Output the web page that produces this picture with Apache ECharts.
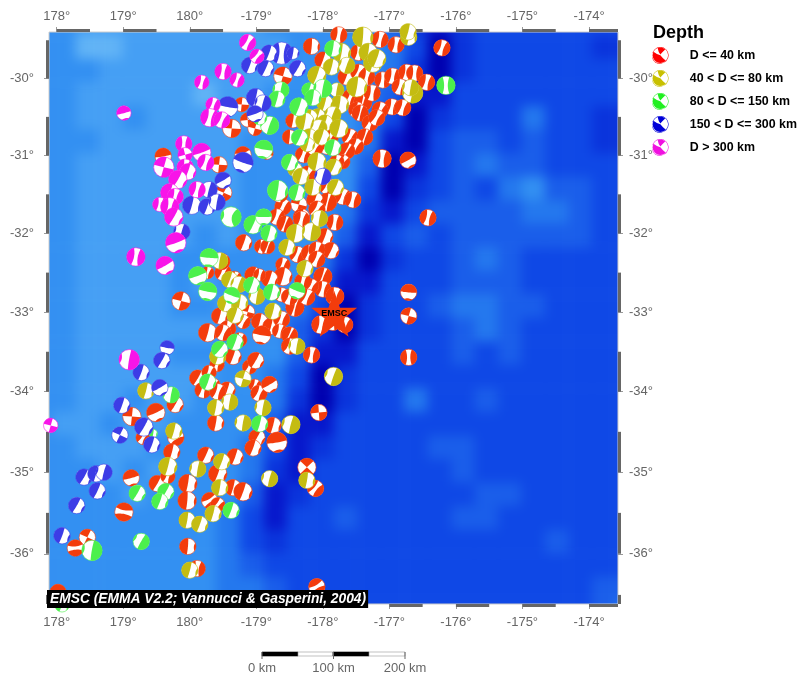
<!DOCTYPE html>
<html>
<head>
<meta charset="utf-8">
<title>EMSC focal mechanisms</title>
<script src="https://cdn.jsdelivr.net/npm/echarts@6/dist/echarts.min.js"></script>
<style>
    html, body { margin: 0; padding: 0; background: #fff; }
    #bathClip { position: absolute; left: 49px; top: 32px; width: 569px; height: 572px; overflow: hidden; }
    #bath { position: absolute; left: -20px; top: -20px; width: 610px; height: 612px; filter: blur(6px); }
    #chart { position: absolute; left: 0; top: 0; width: 807px; height: 683px; }
</style>
</head>
<body>
<div id="bathClip"><div id="bath"></div></div>
<div id="chart"></div>
<script>
const lonTicks = [178, 179, 180, 181, 182, 183, 184, 185, 186];
const latTicks = [-30, -31, -32, -33, -34, -35, -36];
const depthLabels = ['D <= 40 km', '40 < D <= 80 km', '80 < D <= 150 km', '150 < D <= 300 km', 'D > 300 km'];
const depthColors = ['#f33c0c', '#c4bc12', '#4cf04c', '#3c3ce6', '#f814e8'];
const legendColors = ['#ff0000', '#c8c000', '#20f020', '#0000d8', '#f010e0'];
const starPoint = [182.17, -33.02];

// seabed shade, row by row from north to south (0 shallow, 9 trench)
const seabed = [
    [3,3,2,2,2,2,2,2,2,2,3,3,3,3,4,5,7,8,7,6,6,6,6,6,6,6],
    [3,3,1,1,2,2,2,2,2,2,2,3,3,3,3,4,6,9,7,6,6,6,6,6,7,7],
    [3,3,3,2,2,2,2,2,2,2,2,3,3,3,3,4,7,9,7,6,6,6,6,6,6,6],
    [3,3,2,2,2,2,2,1,2,2,3,3,3,3,4,5,8,8,6,6,6,6,6,6,6,6],
    [3,3,2,2,3,2,2,2,2,2,3,3,3,3,4,6,9,7,6,6,6,4,6,6,7,7],
    [3,3,3,2,2,2,2,2,2,3,3,3,3,3,4,8,9,6,5,5,6,5,6,6,7,7],
    [3,3,2,2,2,2,2,2,2,3,3,3,3,3,5,9,8,6,5,4,5,5,6,6,6,6],
    [3,3,2,2,2,2,2,2,2,3,3,3,3,3,6,9,7,6,5,6,4,3,5,5,6,6],
    [3,3,2,2,2,2,2,2,2,3,3,3,3,4,7,8,6,5,5,5,5,4,4,5,6,6],
    [3,3,2,2,2,2,2,3,2,3,3,3,3,5,8,6,5,6,5,5,5,5,5,5,6,6],
    [3,3,2,2,2,2,3,3,3,3,3,3,4,7,9,7,6,6,5,4,5,6,6,6,6,6],
    [3,3,2,2,2,2,3,2,3,3,3,3,5,8,8,6,6,6,5,5,5,6,6,6,6,6],
    [3,3,2,2,2,2,3,3,2,3,3,4,6,9,7,6,6,5,4,4,5,5,6,6,6,6],
    [3,3,2,2,2,2,2,2,3,3,3,5,7,9,7,6,6,6,5,4,5,6,6,6,6,6],
    [3,3,2,2,2,2,3,3,3,3,3,5,8,8,6,6,6,6,5,6,5,6,6,6,6,6],
    [3,3,2,2,2,2,2,2,3,3,4,6,9,7,6,6,6,6,6,6,6,6,6,6,6,6],
    [3,3,2,2,3,2,2,3,3,3,4,7,9,7,6,6,4,6,6,5,6,6,6,6,6,6],
    [3,2,2,3,2,2,3,3,3,3,5,8,8,6,6,6,6,6,6,6,6,6,6,6,6,6],
    [3,3,2,2,2,3,3,3,3,4,6,8,7,6,6,6,6,5,5,6,6,6,6,6,6,6],
    [3,3,3,2,3,2,3,3,3,4,7,8,6,6,6,6,6,6,5,6,6,6,6,6,6,6],
    [3,3,3,3,2,3,3,3,3,5,8,7,6,6,6,6,6,6,6,5,5,6,6,6,6,6],
    [3,3,3,3,3,3,3,3,4,6,8,6,6,5,6,6,6,6,5,5,6,6,6,6,6,6],
    [3,3,3,3,3,3,3,3,4,6,7,6,6,6,6,6,6,6,6,6,6,6,5,6,6,6],
    [3,3,3,3,3,3,3,3,4,5,6,6,6,6,6,6,6,6,6,6,6,6,6,6,6,6],
    [3,3,3,3,3,3,3,3,4,4,5,6,6,6,6,6,6,6,6,6,6,6,6,6,5,5],
    [3,3,3,3,3,3,3,3,4,4,5,6,6,6,6,6,6,6,6,6,6,6,6,6,5,4]
];
const seabedColors = ['#8cccf8', '#62b4f6', '#459ff4', '#3390f2', '#2478ee', '#1a5eea', '#0f48e6', '#0a34dc', '#0718cc', '#0000b0'];

// lon (0-360), lat, magnitude, strike, mechanism kind
const shallow = [
    [182.24,-29.43,5,10,0],[181.83,-29.58,5,5,1],[182.86,-29.49,5,15,0],[183.10,-29.56,5,10,0],[183.79,-29.60,5,20,0],
    [181.40,-29.97,5.25,60,2],[182.00,-29.76,5,20,1],[182.54,-29.66,5,10,0],[182.35,-29.98,5,20,1],[182.54,-29.92,5,25,0],
    [182.66,-29.98,5,15,0],[182.90,-30.02,5,10,0],[183.05,-29.97,5,10,0],[183.26,-29.92,5,10,0],[183.38,-29.93,5,5,0],
    [183.56,-30.05,5,15,0],[183.16,-30.11,5,20,0],[182.41,-30.25,5,25,0],[182.60,-30.31,5.25,15,3],[182.74,-30.19,5,10,0],
    [183.04,-30.37,5,15,0],[183.20,-30.38,5,20,0],[182.86,-30.41,5,25,0],[182.51,-30.41,5,30,0],[182.56,-30.45,5,15,3],
    [182.71,-30.58,5,25,0],[182.81,-30.51,5,30,0],[181.55,-30.55,4.75,10,1],[181.50,-30.76,4.75,5,1],[180.78,-30.34,4.75,50,2],
    [180.87,-30.54,4.75,40,2],[180.98,-30.65,4.75,60,2],[180.63,-30.65,5.25,50,2],[182.41,-30.76,5,25,0],[182.63,-30.76,5,20,3],
    [182.49,-30.88,5,30,0],[182.11,-30.76,5,30,0],[182.06,-30.88,5,20,0],[182.36,-30.94,5,30,3],[182.30,-31.08,4.75,35,0],
    [182.21,-31.08,4.75,20,0],[181.71,-30.99,5,20,0],[181.88,-30.90,5,30,0],[182.89,-31.04,5.25,8,0],[183.28,-31.06,5,60,1],
    [180.80,-30.99,5,75,0],[181.16,-30.97,4.5,120,1],[180.44,-31.12,5,50,2],[180.51,-31.48,5,70,2],[179.60,-31.01,5,80,1],
    [181.77,-31.24,5,30,0],[182.07,-31.40,5,25,0],[182.30,-31.53,5,20,0],[182.45,-31.57,5,15,0],[182.07,-31.60,5.25,15,3],
    [181.88,-31.57,5,20,1],[181.91,-31.69,5,30,0],[181.64,-31.63,5,60,2],[181.40,-31.66,5,25,0],[181.35,-31.50,5,15,0],
    [181.31,-31.79,5,20,0],[181.68,-31.79,5,15,1],[183.58,-31.80,5,15,0],[180.81,-32.12,5,20,1],[181.08,-32.17,4.75,15,0],
    [181.17,-32.17,4.75,20,3],[181.43,-31.88,5,20,3],[181.68,-31.82,5,15,0],[181.40,-32.40,4.75,20,0],[181.62,-32.27,5,25,0],
    [181.80,-32.25,5,15,0],[182.03,-32.04,5,20,1],[182.12,-32.22,5,25,1],[182.18,-31.86,5,10,0],[181.91,-32.21,5,15,0],
    [181.91,-32.33,5,25,0],[182.00,-32.55,5.25,20,3],[182.00,-32.71,5,15,0],[181.83,-32.67,4.75,30,0],[181.40,-32.55,5.25,15,1],
    [181.20,-32.58,5,20,1],[180.95,-32.53,5,25,1],[181.05,-32.53,4.5,15,0],[180.68,-32.56,4.5,20,0],[180.50,-32.50,5,20,0],
    [180.27,-32.50,4.5,20,0],[180.48,-32.36,5,25,0],[181.38,-32.78,4.75,20,0],[181.58,-32.94,5.25,15,3],[181.76,-32.81,5,25,0],
    [181.50,-32.81,5,20,0],[181.70,-32.61,5,15,0],[182.18,-32.80,5.25,15,0],[181.97,-33.16,5.25,10,0],[182.33,-33.16,5,20,0],
    [182.15,-33.13,5,10,0],[179.87,-32.86,5.25,60,2],[180.45,-33.05,5,15,1],[180.87,-33.00,4.75,60,2],[180.80,-33.12,4.75,30,0],
    [181.05,-33.12,5,15,1],[181.22,-33.18,5,15,1],[181.38,-33.09,5,20,0],[181.35,-33.24,4.75,15,0],[181.50,-33.29,5,25,3],
    [181.08,-33.29,5.25,100,1],[181.50,-33.43,5,25,0],[181.83,-33.54,5,10,0],[180.27,-33.26,5.25,15,1],[180.57,-33.21,5,20,0],
    [180.50,-33.26,5,25,0],[180.75,-33.35,4.75,15,0],[183.29,-32.75,5,95,1],[183.29,-33.05,5,60,2],[183.29,-33.57,5,0,0],
    [180.65,-33.56,5,20,1],[180.41,-33.66,4.75,20,0],[180.12,-33.83,5,30,1],[180.29,-33.76,4.75,20,0],[180.20,-33.98,5,15,0],
    [180.35,-33.92,4.75,25,0],[180.56,-33.98,5,20,1],[180.42,-34.00,5,20,0],[180.90,-33.69,4.75,25,0],[180.99,-33.61,5,30,1],
    [180.98,-33.92,4.5,20,0],[181.04,-34.02,5,25,0],[181.20,-33.91,5,60,1],[181.94,-34.26,5,40,2],[179.13,-34.31,5.25,50,2],
    [179.49,-34.26,5.25,65,1],[179.78,-34.16,5,30,1],[180.39,-34.39,5,10,1],[181.25,-34.42,5,15,1],[181.01,-34.57,5,30,1],
    [181.31,-34.63,5.5,80,1],[180.95,-34.70,5,20,1],[179.79,-34.57,5,60,0],[179.30,-34.57,4.75,30,0],[179.73,-34.75,5,15,1],
    [180.24,-34.79,5,25,1],[180.68,-34.81,5,20,1],[181.76,-34.94,5.25,90,2],[181.89,-35.20,5,40,0],[179.12,-35.07,5,75,1],
    [179.01,-35.49,5.25,100,0],[179.51,-35.14,5,30,1],[179.67,-35.05,4.75,20,0],[179.97,-35.14,5.25,10,1],[179.96,-35.35,5.25,5,1],
    [180.42,-35.02,5.25,20,1],[180.30,-35.35,5,60,0],[180.42,-35.40,4.75,40,0],[180.65,-35.19,5,15,1],[180.80,-35.24,5.25,20,1],
    [178.46,-35.80,5,70,2],[178.28,-35.93,5,85,0],[179.97,-35.91,5,5,1],[180.11,-36.18,5,10,0],[178.02,-36.47,5,80,1],[181.91,-36.40,5,60,0]
];
const intermediate = [
    [182.60,-29.46,5.5,5,1],[183.29,-29.46,5,10,1],[183.28,-29.39,5,15,1],[182.68,-29.66,5.25,10,1],[182.28,-29.66,5.25,10,1],
    [182.13,-29.85,5,15,1],[181.91,-29.96,5.25,20,1],[182.36,-29.83,5,200,1],[182.51,-30.11,5.5,10,1],[182.75,-29.80,5.25,15,1],
    [182.81,-29.74,5.25,20,1],[182.21,-30.15,4.75,190,1],[182.25,-30.34,5.25,10,1],[182.03,-30.32,5,15,1],[181.92,-30.50,5,20,1],
    [182.15,-30.47,5,200,1],[181.80,-30.51,5,15,1],[181.73,-30.56,5.25,10,1],[182.03,-30.58,5,20,1],[182.24,-30.65,5.25,15,1],
    [181.94,-30.64,5,200,1],[181.80,-30.76,5,10,1],[181.98,-30.76,5,20,1],[181.77,-30.86,4.75,15,1],[181.91,-31.08,5.25,10,1],
    [182.16,-31.15,5,25,1],[181.58,-31.18,4.75,30,1],[181.67,-31.27,5,15,1],[181.85,-31.41,5,10,1],[182.19,-31.41,5,25,1],
    [183.35,-30.19,5.5,195,1],[183.32,-30.12,5,190,1],[181.59,-32.00,5.25,10,1],[181.83,-31.98,5.25,190,1],[181.46,-32.18,5,15,1],
    [181.95,-31.81,5,190,1],[181.73,-32.45,5,15,1],[180.45,-32.35,5,190,1],[180.60,-32.59,5,20,1],[180.74,-32.65,5,200,1],
    [180.54,-32.89,5,15,1],[180.75,-32.88,5,10,1],[180.68,-33.04,5,20,1],[181.01,-32.80,5,190,1],[181.25,-32.99,5,15,1],
    [181.61,-33.43,5,190,1],[182.16,-33.81,5.25,200,1],[180.80,-33.84,5,60,2],[180.42,-33.56,5,15,1],[180.60,-34.13,5,190,1],
    [180.39,-34.20,5,10,1],[181.10,-34.20,5,190,1],[180.80,-34.39,5,190,1],[181.52,-34.41,5.25,195,1],[179.76,-34.49,5,15,1],
    [179.67,-34.93,5.25,15,1],[180.12,-34.96,5,190,1],[180.48,-34.87,5,20,1],[180.45,-35.19,5,10,1],[180.35,-35.51,5,15,1],
    [179.96,-35.59,5,10,1],[180.15,-35.64,5,20,1],[181.20,-35.08,5,195,1],[181.76,-35.10,5,10,1],[180.00,-36.20,5,15,1],[179.34,-33.99,5,15,1]
];
const deep = [
    [182.15,-29.61,5,10,1],[181.37,-30.15,5,190,1],[181.31,-30.27,5,15,1],[181.79,-30.15,4.75,20,1],[182.00,-30.13,5.25,190,1],
    [181.85,-30.25,5,10,1],[181.64,-30.37,5.25,20,1],[181.20,-30.61,5.25,200,1],[181.05,-30.51,4.75,15,1],[181.11,-30.92,5.25,100,1],
    [181.65,-30.77,5,25,1],[182.15,-30.90,5,15,1],[181.50,-31.09,5,20,1],[181.32,-31.45,5.5,10,1],[181.61,-31.48,5,15,1],
    [180.62,-31.79,5.5,190,4],[180.95,-31.89,5.25,25,1],[181.11,-31.79,5,90,1],[181.19,-32.00,5,15,1],[183.85,-30.09,5.25,0,0],
    [180.29,-32.31,5.25,95,1],[180.12,-32.54,5.25,70,1],[180.27,-32.74,5.25,100,1],[180.63,-32.79,5,110,1],[180.93,-32.66,5,20,1],
    [181.23,-32.75,5,15,1],[181.61,-32.73,5,110,1],[180.45,-33.47,5,40,1],[180.68,-33.38,5,20,1],[180.27,-33.88,5,20,1],
    [179.72,-34.04,5,190,1],[179.45,-34.52,4,10,1],[179.21,-35.26,5,30,1],[179.64,-35.24,5,30,1],[179.55,-35.36,5,20,1],
    [180.62,-35.47,5,20,1],[181.05,-34.40,5,15,1],[178.53,-35.96,5.5,190,1],[179.27,-35.85,5,210,1],[178.08,-36.62,4.75,20,1]
];
const midDeep = [
    [181.38,-29.67,5.75,5,0],[181.19,-29.67,5,20,1],[181.55,-29.67,4.5,10,1],[180.90,-29.83,5,20,1],[181.14,-29.87,5,25,1],
    [181.62,-29.87,5,30,1],[180.57,-30.37,5.5,100,1],[180.99,-30.25,5.25,15,1],[181.10,-30.32,5,195,1],[180.98,-30.46,5,70,1],
    [182.00,-31.27,5,195,1],[180.80,-31.09,5.5,110,1],[180.50,-31.32,5,60,1],[180.29,-31.44,5,195,1],[180.03,-31.64,5.25,15,1],
    [180.26,-31.66,5,20,1],[180.41,-31.60,5,190,1],[179.88,-31.98,5,195,1],[179.66,-33.45,4.75,100,1],[179.58,-33.61,5,30,1],
    [179.27,-33.76,5,20,1],[179.55,-33.95,5,60,1],[178.98,-34.17,5,20,1],[179.31,-34.44,5.25,30,1],[178.95,-34.54,5,70,2],
    [179.43,-34.66,5,20,1],[178.41,-35.06,5,30,1],[178.59,-35.02,5,15,1],[178.71,-35.00,5,195,1],[178.61,-35.23,5,25,1],
    [178.30,-35.41,5,30,1],[178.08,-35.78,5,20,1]
];
const veryDeep = [
    [180.87,-29.53,5,30,0],[181.01,-29.71,4.75,40,0],[180.50,-29.91,5,10,0],[180.71,-30.02,4.75,20,0],[180.18,-30.05,4.75,15,0],
    [179.01,-30.45,4.75,75,1],[180.35,-30.34,4.75,20,0],[180.30,-30.51,5.25,15,0],[180.48,-30.54,5,25,0],[179.91,-30.85,5,5,0],
    [179.93,-30.99,4.75,30,2],[180.18,-30.96,5.25,70,1],[180.24,-31.09,5,20,0],[179.61,-31.15,5.5,60,2],[179.93,-31.15,5,15,0],
    [179.97,-31.21,5,20,1],[179.82,-31.31,5.25,30,1],[180.11,-31.44,5,15,0],[179.70,-31.48,5.25,20,1],[179.78,-31.53,5,15,0],
    [179.55,-31.63,4.75,10,0],[179.70,-31.66,5.25,10,0],[179.76,-31.79,5.25,30,1],[179.79,-32.12,5.5,70,1],[179.63,-32.41,5.25,60,1],
    [179.19,-32.30,5.25,10,0],[177.91,-34.42,4.75,60,2],[179.09,-33.60,5.5,190,1]
];

const depthSeries = [shallow, intermediate, deep, midDeep, veryDeep];

// shapes of the coloured lobes: half-opening angle and how far the inner edge reaches towards the centre
const mechanismKinds = [
    { lobes: [{ open: 68, inner: 0.2 }, { open: 68, inner: 0.2 }] },
    { lobes: [{ open: 88, inner: -0.02 }, { open: 30, inner: 0.74 }] },
    { lobes: [{ open: 46, inner: 0 }, { open: 46, inner: 0 }], pointed: true },
    { lobes: [{ open: 80, inner: 0.08 }, { open: 80, inner: 0.08 }] },
    { lobes: [{ open: 62, inner: 0.08 }, { open: 30, inner: 0.7 }] }
];

const mercatorY = function (lat) {
    const r = Math.PI / 180;
    return Math.log(Math.tan(Math.PI / 4 + lat * r / 2)) / r;
};
const latFromMercator = function (y) {
    const r = Math.PI / 180;
    return (2 * Math.atan(Math.exp(y * r)) - Math.PI / 2) / r;
};
const lonLabel = function (v) {
    const lon = Math.round(v);
    return (lon > 180 ? lon - 360 : lon) + '°';
};

function lobePoints(cx, cy, radius, azimuth, lobe, pointed) {
    const points = [];
    const toPoint = function (az, dist) {
        const a = az * Math.PI / 180;
        return [cx + Math.sin(a) * dist, cy - Math.cos(a) * dist];
    };
    for (let i = 0; i <= 14; i++) {
        points.push(toPoint(azimuth - lobe.open + lobe.open * i / 7, radius));
    }
    if (pointed) {
        points.push([cx, cy]);
        return points;
    }
    const end = points[14], start = points[0];
    const chord = Math.cos(lobe.open * Math.PI / 180) * radius;
    const control = toPoint(azimuth, 2 * lobe.inner * radius - chord);
    for (let i = 1; i < 10; i++) {
        const t = i / 10;
        points.push([
            (1 - t) * (1 - t) * end[0] + 2 * t * (1 - t) * control[0] + t * t * start[0],
            (1 - t) * (1 - t) * end[1] + 2 * t * (1 - t) * control[1] + t * t * start[1]
        ]);
    }
    return points;
}

function renderBall(color) {
    return function (params, api) {
        const c = api.coord([api.value(0), api.value(1)]);
        const radius = 4 * (api.value(2) - 3.25) + 1.2;
        const strike = api.value(3);
        const kind = mechanismKinds[api.value(4)];
        const children = [{
            type: 'circle',
            shape: { cx: c[0], cy: c[1], r: radius },
            style: { fill: '#fff', stroke: color, lineWidth: 0.6 }
        }];
        kind.lobes.forEach(function (lobe, i) {
            children.push({
                type: 'polygon',
                shape: { points: lobePoints(c[0], c[1], radius, strike - 90 + 180 * i, lobe, kind.pointed) },
                style: { fill: color }
            });
        });
        return { type: 'group', children: children };
    };
}

function renderFrame(params, api) {
    const rect = params.coordSys;
    const a = api.coord([api.value(1), api.value(2)]);
    const b = api.coord([api.value(3), api.value(4)]);
    const side = api.value(0);
    let shape;
    if (side == 0) shape = { x: a[0], y: rect.y - 3, width: b[0] - a[0], height: 3 };
    if (side == 1) shape = { x: a[0], y: rect.y + rect.height, width: b[0] - a[0], height: 3 };
    if (side == 2) shape = { x: rect.x - 3, y: a[1], width: 3, height: b[1] - a[1] };
    if (side == 3) shape = { x: rect.x + rect.width, y: a[1], width: 3, height: b[1] - a[1] };
    return { type: 'rect', shape: shape, style: { fill: '#666' } };
}

const frameRows = [];
lonTicks.forEach(function (lon) {
    const next = Math.min(lon + 0.5, 186.436);
    frameRows.push([0, lon, -31, next, -31], [1, lon, -31, next, -31]);
});
latTicks.concat([-37]).forEach(function (lat) {
    const top = Math.min(mercatorY(lat + 0.5), -30.773);
    const bottom = Math.max(mercatorY(lat), -39.39);
    frameRows.push([2, 178, top, 178, bottom], [3, 178, top, 178, bottom]);
});

const seabedCells = [];
seabed.forEach(function (row, r) {
    row.forEach(function (v, c) { seabedCells.push([c, seabed.length - 1 - r, v]); });
});

const bathChart = echarts.init(document.getElementById('bath'));
bathChart.setOption({
    animation: false,
    grid: { left: 0, top: 0, right: 0, bottom: 0 },
    xAxis: { type: 'category', show: false, data: seabed[0].map(function (v, i) { return i; }) },
    yAxis: { type: 'category', show: false, data: seabed.map(function (v, i) { return i; }) },
    visualMap: {
        show: false, min: 0, max: 9, dimension: 2,
        inRange: { color: seabedColors }
    },
    series: [{ type: 'heatmap', data: seabedCells, progressive: 0 }]
});

const ballIcon = 'path://M12 0A12 12 0 1 1 12 24A12 12 0 1 1 12 0ZM12 0.8A11.2 11.2 0 1 0 12 23.2A11.2 11.2 0 1 0 12 0.8Z'
    + 'M8 1.5Q9 7 12 11Q15 7 19 3.5A11 11 0 0 0 8 1.5Z'
    + 'M12 12Q7 11 2 7A11 11 0 0 0 20 20Q15 16 12 12Z';

const series = [{
    name: 'frame',
    type: 'custom',
    silent: true,
    z: 1,
    clip: false,
    data: frameRows,
    renderItem: renderFrame,
    encode: { x: 1, y: 2 }
}];
depthSeries.forEach(function (rows, i) {
    series.push({
        name: depthLabels[i],
        type: 'custom',
        z: 3 + i,
        clip: false,
        itemStyle: { color: legendColors[i] },
        data: rows.map(function (d) { return [d[0], mercatorY(d[1]), d[2], d[3], d[4]]; }),
        renderItem: renderBall(depthColors[i]),
        encode: { x: 0, y: 1 }
    });
});
series.push({
    name: 'EMSC',
    type: 'scatter',
    z: 9,
    symbol: 'path://M12 0L15 8.5L24 8.5L16.8 14L19.5 23L12 17.5L4.5 23L7.2 14L0 8.5L9 8.5Z',
    symbolSize: 46,
    itemStyle: { color: depthColors[0], opacity: 1 },
    label: {
        show: true, position: 'inside', formatter: 'EMSC',
        color: '#000', fontSize: 9, fontWeight: 'bold', fontFamily: 'Liberation Sans'
    },
    data: [[starPoint[0], mercatorY(starPoint[1])]]
});

const tickLabel = { color: '#666', fontSize: 13, fontFamily: 'Liberation Sans' };
const tickMark = { length: 5, lineStyle: { color: '#999', width: 1 } };
const makeXAxis = function (position, margin) {
    return {
        type: 'value', position: position, min: 177.884, max: 186.436,
        splitLine: { show: false }, axisLine: { show: false },
        axisTick: Object.assign({ customValues: lonTicks }, tickMark),
        axisLabel: Object.assign({ customValues: lonTicks, formatter: lonLabel, margin: margin }, tickLabel)
    };
};
const makeYAxis = function (position, margin) {
    const ticks = latTicks.map(mercatorY);
    return {
        type: 'value', position: position, min: -39.39, max: -30.773,
        splitLine: { show: false }, axisLine: { show: false },
        axisTick: Object.assign({ customValues: ticks }, tickMark),
        axisLabel: Object.assign({
            customValues: ticks,
            margin: margin,
            formatter: function (v) { return Math.round(latFromMercator(v)) + '°'; }
        }, tickLabel)
    };
};

const barY = 652;
const barText = function (x, text) {
    return {
        type: 'text', x: x, y: 668,
        style: { text: text, fill: '#666', font: '13px "Liberation Sans"', align: 'center', verticalAlign: 'middle' }
    };
};
const barPart = function (x, w, fill) {
    return { type: 'rect', shape: { x: x, y: barY, width: w, height: 4 }, style: { fill: fill, stroke: fill == '#000' ? '#000' : '#999', lineWidth: 0.6 } };
};
const barTick = function (x) {
    return { type: 'line', shape: { x1: x, y1: barY, x2: x, y2: barY + 7 }, style: { stroke: '#666', lineWidth: 1 } };
};

const chart = echarts.init(document.getElementById('chart'));
chart.setOption({
    animation: false,
    grid: { left: 49, top: 32, width: 569, height: 572, show: true, borderColor: '#ccc', borderWidth: 1, backgroundColor: 'transparent' },
    title: [
        { text: 'Depth', left: 653, top: 24, padding: 0, textStyle: { fontSize: 18, fontWeight: 'bold', color: '#000', fontFamily: 'Liberation Sans' } },
        {
            text: 'EMSC (EMMA V2.2; Vannucci & Gasperini, 2004)', left: 47, top: 590, backgroundColor: '#000', padding: [2, 2, 2, 3],
            textStyle: { fontSize: 13.8, fontWeight: 'bold', fontStyle: 'italic', color: '#fff', fontFamily: 'Liberation Sans' }
        }
    ],
    legend: {
        orient: 'vertical', left: 652, top: 47, padding: 0,
        itemWidth: 17, itemHeight: 17, itemGap: 6, selectedMode: false,
        textStyle: { fontSize: 12.4, fontWeight: 'bold', color: '#000', fontFamily: 'Liberation Sans', padding: [0, 0, 0, 16] },
        data: depthLabels.map(function (name) { return { name: name, icon: ballIcon }; })
    },
    xAxis: [makeXAxis('bottom', 12), makeXAxis('top', 9)],
    yAxis: [makeYAxis('left', 15), makeYAxis('right', 11)],
    series: series,
    graphic: [
        barPart(262, 36, '#000'), barPart(298, 35, '#fff'), barPart(333, 36, '#000'), barPart(369, 36, '#fff'),
        barTick(262), barTick(333.5), barTick(405),
        barText(262, '0 km'), barText(333.5, '100 km'), barText(405, '200 km')
    ]
});
</script>
</body>
</html>
